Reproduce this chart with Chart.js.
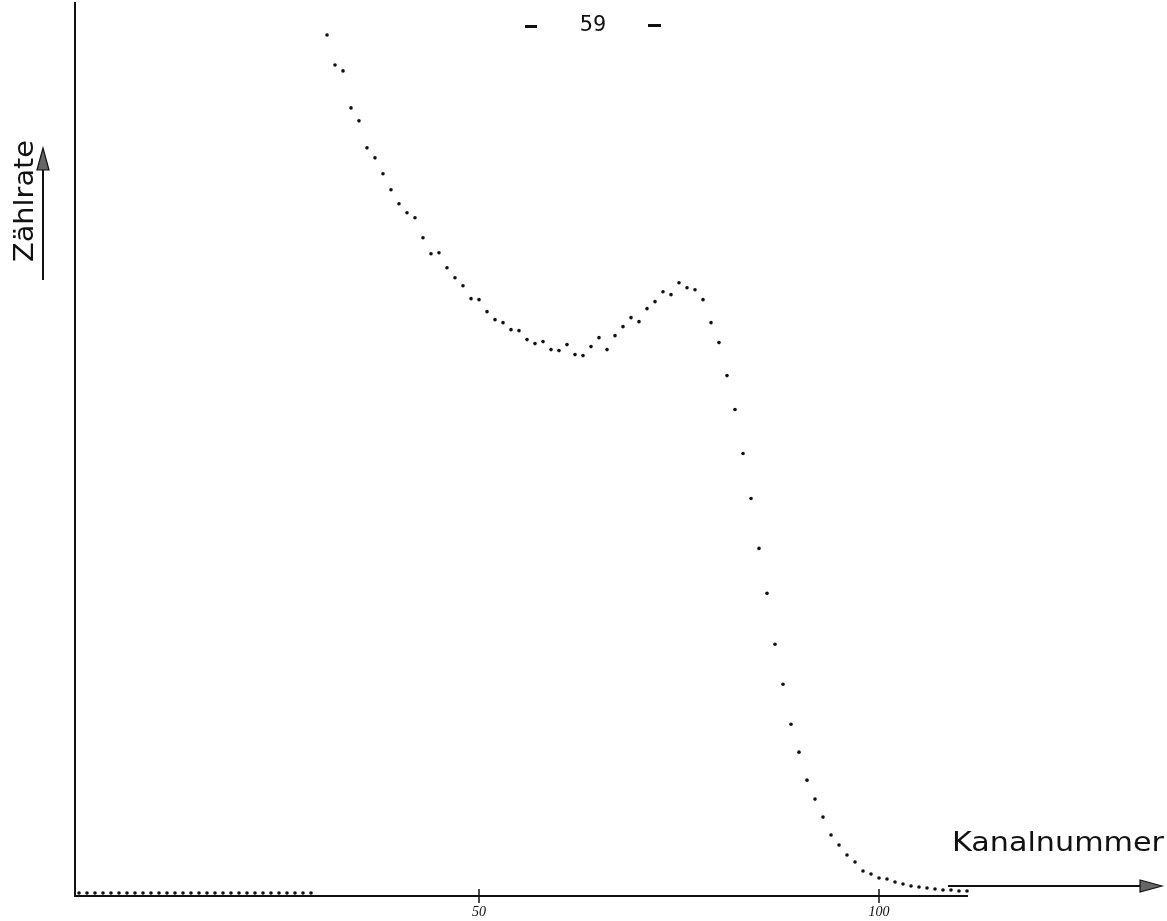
<!DOCTYPE html>
<html>
<head>
    <title>Zählrate über Kanalnummer</title>
    <script src="https://cdn.jsdelivr.net/npm/chart.js"></script>
    <style>
        body { margin: 0; background: #fff; }
        canvas { display: block; }
    </style>
</head>
<body>
    <canvas id="spectrumChart" width="1167" height="921"></canvas>
    <script>
        // counts per channel (arbitrary units, channel 30 off-scale)
        const counts = [
            3, 3, 3, 3, 3, 3, 3, 3, 3, 3,
            3, 3, 3, 3, 3, 3, 3, 3, 3, 3,
            3, 3, 3, 3, 3, 3, 3, 3, 3, 3,
            null, 862, 832, 826, 789, 776, 749, 739, 723, 707,
            693, 684, 679, 659, 643, 644, 629, 619, 611, 598,
            597, 585, 577, 574, 567, 566, 557, 553, 555, 547,
            546, 552, 542, 541, 550, 559, 547, 561, 570, 579,
            575, 588, 595, 605, 602, 614, 609, 607, 597, 574,
            554, 521, 487, 443, 398, 348, 303, 252, 212, 172,
            144, 116, 97, 79, 61, 51, 41, 34, 25, 22,
            18, 17, 14, 12, 10, 9, 8, 7, 6, 6,
            5, 5
        ];
        const channels = counts.map((_, i) => i);
        const tickChannels = [50, 100];
        const tickLabels = ['50', '100'];
        const pageNumber = '59';
        const xTitle = 'Kanalnummer';
        const yTitle = 'Zählrate';

        // axes, ticks and hand-lettered labels of the original figure
        const paperAxes = {
            id: 'paperAxes',
            afterDraw(chart) {
                const ctx = chart.ctx;
                const xs = chart.scales.x;
                const ys = chart.scales.y;
                const left = xs.left;
                const bottom = ys.bottom;
                ctx.save();
                ctx.strokeStyle = '#111';
                ctx.fillStyle = '#111';
                ctx.lineWidth = 2;
                // axis lines
                ctx.beginPath();
                ctx.moveTo(left, 2);
                ctx.lineTo(left, bottom);
                ctx.lineTo(xs.right - 3, bottom);
                ctx.stroke();
                // ticks + labels
                ctx.font = 'italic 14px "Liberation Serif"';
                ctx.textAlign = 'center';
                ctx.textBaseline = 'top';
                ctx.lineWidth = 1.5;
                tickChannels.forEach((c, i) => {
                    const px = xs.getPixelForValue(c);
                    ctx.beginPath();
                    ctx.moveTo(px, bottom - 7);
                    ctx.lineTo(px, bottom + 7);
                    ctx.stroke();
                    ctx.fillText(tickLabels[i], px, bottom + 9);
                });
                // page number, dashes drawn as short bars like the typewriter ones
                ctx.font = '22px "DejaVu Sans Mono"';
                ctx.textBaseline = 'middle';
                ctx.fillText(pageNumber, 593, 25);
                ctx.fillRect(525, 25, 12, 3);
                ctx.fillRect(648, 24, 13, 3);
                // x title with arrow
                ctx.font = '26px "DejaVu Sans"';
                ctx.textAlign = 'left';
                ctx.textBaseline = 'alphabetic';
                let w = ctx.measureText(xTitle).width;
                ctx.save();
                ctx.translate(952, 851);
                ctx.scale(212 / w, 1);
                ctx.fillText(xTitle, 0, 0);
                ctx.restore();
                ctx.lineWidth = 2;
                ctx.beginPath();
                ctx.moveTo(948, 886);
                ctx.lineTo(1145, 886);
                ctx.stroke();
                ctx.fillStyle = '#666';
                ctx.lineWidth = 1.2;
                ctx.beginPath();
                ctx.moveTo(1162, 886);
                ctx.lineTo(1140, 880);
                ctx.lineTo(1140, 892);
                ctx.closePath();
                ctx.fill();
                ctx.stroke();
                // y title with arrow
                ctx.fillStyle = '#111';
                ctx.lineWidth = 2;
                w = ctx.measureText(yTitle).width;
                ctx.save();
                ctx.translate(33, 262);
                ctx.rotate(-Math.PI / 2);
                ctx.scale(122 / w, 1);
                ctx.fillText(yTitle, 0, 0);
                ctx.restore();
                ctx.beginPath();
                ctx.moveTo(43, 280);
                ctx.lineTo(43, 165);
                ctx.stroke();
                ctx.fillStyle = '#666';
                ctx.lineWidth = 1.2;
                ctx.beginPath();
                ctx.moveTo(43, 148);
                ctx.lineTo(37, 170);
                ctx.lineTo(49, 170);
                ctx.closePath();
                ctx.fill();
                ctx.stroke();
                ctx.restore();
            }
        };

        const ctx1 = document.getElementById('spectrumChart').getContext('2d');
        new Chart(ctx1, {
            type: 'scatter',
            data: {
                datasets: [{
                    label: yTitle,
                    data: channels.map((c, i) => ({ x: c, y: counts[i] })),
                    backgroundColor: '#111',
                    borderColor: '#111',
                    pointRadius: 1.8,
                    pointBorderWidth: 0
                }]
            },
            options: {
                responsive: false,
                animation: false,
                layout: {
                    padding: { left: 75, right: 196, top: 3, bottom: 25 }
                },
                plugins: {
                    legend: { display: false },
                    tooltip: { enabled: false }
                },
                scales: {
                    x: { type: 'linear', min: -0.5, max: 111.5, display: false },
                    y: { min: 0, max: 893, display: false }
                }
            },
            plugins: [paperAxes]
        });
    </script>
</body>
</html>
